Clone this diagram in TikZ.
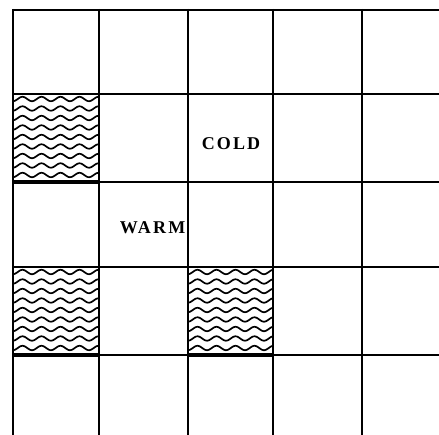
\documentclass[tikz,border=0pt]{standalone}
\usepackage{fontspec}
\setmainfont{Liberation Serif}
\newfontfamily\labelfont[LetterSpace=12]{Liberation Serif Bold}

\tikzset{
  gridline/.style={line width=2.6pt},
  wave/.style={line width=1.7pt},
  cellbottom/.style={line width=4.5pt},
  templabel/.style={font=\labelfont\fontsize{18}{18}\selectfont, inner sep=0pt}
}

% wavy fill of one cell, given its left, top, right and bottom
\newcommand{\wavecell}[4]{%
  \begin{scope}
    \clip (#1,#2) rectangle (#3,#4);
    \foreach \k in {0,...,8} {
      \draw[wave] plot[domain=#1:#3, samples=80]
        (\x, {#2 + 5 + 9.5*\k + 2.2*cos((\x-#1)*18.95)});
    }
  \end{scope}
  \draw[cellbottom] (#1-1,#4) -- (#3+1,#4);
}

\begin{document}
\begin{tikzpicture}[x=1pt, y=-1pt]
    \useasboundingbox (0,0) rectangle (439,435);

    % Hatched cells
    \wavecell{13}{94}{99}{182}
    \wavecell{13}{267}{99}{355}
    \wavecell{188}{267}{273}{355}

    % Horizontal lines, open at the right
    \foreach \yy in {10,94,182,267,355} {
      \draw[gridline] (12,\yy) -- (439,\yy);
    }

    % Vertical lines, open at the bottom
    \foreach \xx in {13,99,188,273,362} {
      \draw[gridline] (\xx,9) -- (\xx,435);
    }

    % Labels
    \node[templabel] (cold) at (231,143.5) {COLD};
    \node[templabel, anchor=east] (warm) at (185.5,227.5) {WARM};

\end{tikzpicture}
\end{document}
